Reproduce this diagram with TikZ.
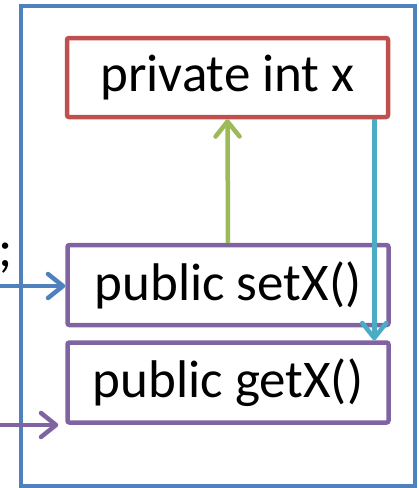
\documentclass[tikz,border=0pt]{standalone}
\usepackage{fontspec}
\setmainfont{Carlito}
\usetikzlibrary{arrows.meta,positioning,calc}
\definecolor{offblue}  {HTML}{4F81BD}
\definecolor{offred}   {HTML}{C0504D}
\definecolor{offpurple}{HTML}{8064A2}
\definecolor{offgreen} {HTML}{9BBB59}
\definecolor{offcyan}  {HTML}{4BACC6}
\begin{document}
\begin{tikzpicture}[
  field/.style ={draw=offred,line width=4.5pt,rounded corners=2pt,minimum width=321pt,
                 minimum height=79pt,inner sep=0pt,font=\fontsize{53}{60}\selectfont},
  meth/.style  ={field,draw=offpurple,minimum height=80pt},
  wall/.style  ={draw=offblue,line width=4pt},
  arr/.style   ={-{Straight Barb[length=15pt,width=24pt,round]},line width=4.5pt},
  barr/.style  ={arr,color=offblue},
  parr/.style  ={arr,color=offpurple},
  garr/.style  ={arr,color=offgreen},
  carr/.style  ={arr,color=offcyan},
  x=1pt, y=-1pt
]
\useasboundingbox (0,0) rectangle (419,488);
%% Object boundary
\draw[wall] (21,6) rectangle (415,486);
%% Members
\node[field] (priv)  at (227.5, 77.5) {private int x};
\node[meth]  (setx)  at (228, 285)    {public setX()};
\node[meth]  (getx)  at (228, 382.5)  {public getX()};
%% Clipped caller text
\node[anchor=base east,inner sep=0pt,font=\fontsize{53}{60}\selectfont] (semi) at (13,266) {;};
%% Outside callers
\coordinate (setsrc) at (-2, 286);
\coordinate (getsrc) at (-2, 425);
\draw[barr] (setsrc) -- (setsrc -| setx.west);
\draw[parr] (getsrc) -- ([xshift=-7pt]getsrc -| getx.west);
%% setter writes, getter reads
\draw[garr] (setx.north) -- (priv.south);
\draw[carr] ([xshift=-16pt]priv.south east)
  -- ([xshift=-16pt]priv.south east |- getx.north);
\end{tikzpicture}
\end{document}
